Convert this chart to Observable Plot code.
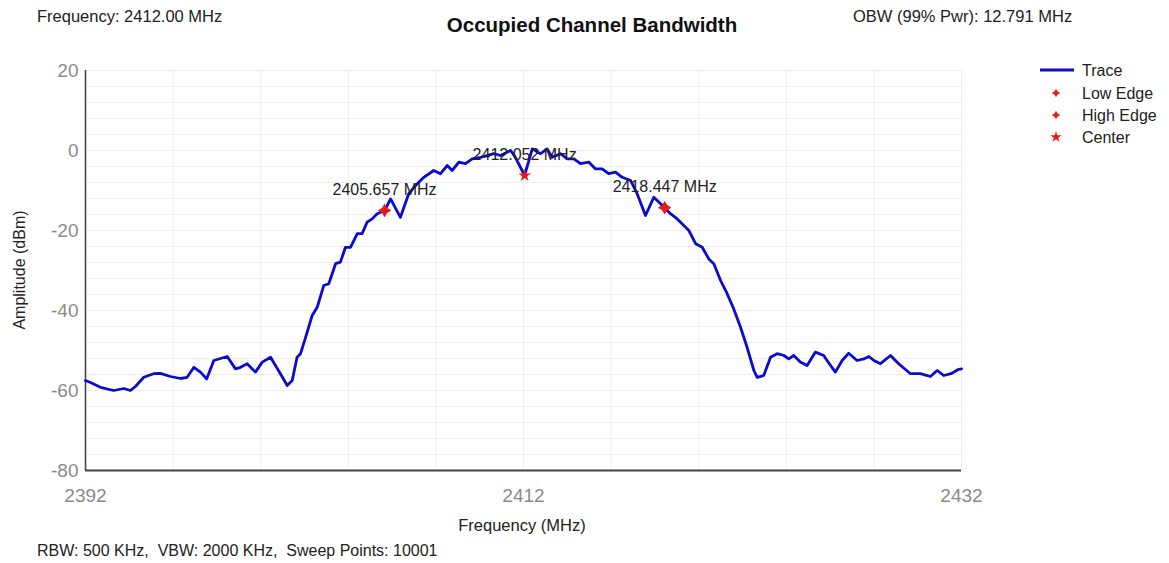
<!DOCTYPE html>
<html>
<head>
<meta charset="utf-8">
<script src="https://cdn.jsdelivr.net/npm/d3@7"></script>
<script src="https://cdn.jsdelivr.net/npm/@observablehq/plot@0.6"></script>
<style>
  html, body { margin: 0; padding: 0; background: #fff; }
  #chart { width: 1169px; height: 563px; }
  svg text { font-family: "Liberation Sans", Arial, sans-serif; }
</style>
</head>
<body>
<div id="chart"></div>
<script>
// ---- Data ----
const traceFreq = [
  2392.00, 2392.23, 2392.68, 2393.29, 2393.75, 2394.05, 2394.28, 2394.66, 2395.11, 2395.42,
  2395.88, 2396.34, 2396.64, 2396.95, 2397.25, 2397.53, 2397.86, 2398.47, 2398.85, 2399.08,
  2399.38, 2399.76, 2400.07, 2400.45, 2400.90, 2401.21, 2401.44, 2401.66, 2401.82, 2402.05,
  2402.35, 2402.58, 2402.88, 2403.11, 2403.42, 2403.64, 2403.87, 2404.10, 2404.41, 2404.63,
  2404.86, 2405.09, 2405.32, 2405.66, 2405.93, 2406.38, 2406.76, 2407.15, 2407.45, 2407.90,
  2408.21, 2408.52, 2408.74, 2409.05, 2409.35, 2409.66, 2410.04, 2410.34, 2410.64, 2410.95,
  2411.41, 2411.63, 2412.05, 2412.40, 2412.78, 2413.08, 2413.31, 2413.69, 2414.00, 2414.30,
  2414.60, 2414.98, 2415.29, 2415.59, 2415.89, 2416.20, 2416.51, 2416.89, 2417.19, 2417.57,
  2417.95, 2418.45, 2418.71, 2419.02, 2419.32, 2419.55, 2419.86, 2420.16, 2420.46, 2420.69,
  2421.00, 2421.30, 2421.60, 2421.91, 2422.21, 2422.52, 2422.67, 2422.97, 2423.28, 2423.58,
  2423.89, 2424.11, 2424.34, 2424.64, 2424.95, 2425.33, 2425.71, 2425.86, 2426.24, 2426.55,
  2426.85, 2427.23, 2427.54, 2427.77, 2428.00, 2428.30, 2428.76, 2429.13, 2429.67, 2430.12,
  2430.58, 2430.89, 2431.19, 2431.52, 2431.83, 2432.00
];
const traceAmp = [
  -57.5, -58.0, -59.2, -60.0, -59.5, -60.0, -59.0, -56.7, -55.8, -55.7,
  -56.5, -57.0, -56.7, -54.2, -55.4, -57.1, -52.5, -51.5, -54.6, -54.2,
  -53.3, -55.4, -52.9, -51.7, -55.8, -58.75, -57.5, -51.7, -50.8, -46.7,
  -41.25, -39.2, -33.75, -33.3, -28.3, -27.9, -24.2, -24.2, -20.8, -20.8,
  -17.9, -17.1, -15.8, -15.0, -12.1, -16.7, -10.8, -8.3, -6.7, -5.0,
  -5.8, -3.75, -5.0, -2.9, -3.3, -2.1, -1.7, -1.25, -0.8, -1.25,
  0.0, -1.7, -6.25, 0.4, -0.8, 0.4, -1.7, -0.8, -2.1, -2.1,
  -3.3, -2.9, -4.6, -4.6, -5.8, -5.4, -6.7, -7.5, -10.8, -16.25,
  -11.7, -14.3, -15.8, -17.1, -18.75, -20.0, -23.3, -24.2, -27.1, -28.3,
  -32.5, -35.8, -39.6, -44.2, -49.2, -55.0, -56.7, -56.25, -51.7, -50.8,
  -51.25, -52.1, -51.25, -52.9, -53.75, -50.4, -51.25, -52.5, -55.4, -52.5,
  -50.7, -52.5, -52.1, -51.5, -52.5, -53.3, -51.25, -53.3, -55.8, -55.8,
  -56.5, -55.0, -56.25, -55.8, -54.8, -54.6
];
const markerNames = ["Low Edge", "Center", "High Edge"];
const markerFreq = [2405.657, 2412.052, 2418.447];
const markerAmp = [-15.0, -6.25, -14.3];
const markerLabels = ["2405.657 MHz", "2412.052 MHz", "2418.447 MHz"];
const xTicks = [2392, 2412, 2432];
const yTicks = [-80, -60, -40, -20, 0, 20];
const legendLabels = ["Trace", "Low Edge", "High Edge", "Center"];
const headerLeft = "Frequency: 2412.00 MHz";
const titleText = "Occupied Channel Bandwidth";
const headerRight = "OBW (99% Pwr): 12.791 MHz";
const footerText = "RBW: 500 KHz,  VBW: 2000 KHz,  Sweep Points: 10001";
const xLabel = "Frequency (MHz)";
const yLabel = "Amplitude (dBm)";

// ---- Build ----
const trace = traceFreq.map((f, i) => ({f, a: traceAmp[i]}));
const markers = markerNames.map((n, i) => ({name: n, f: markerFreq[i], a: markerAmp[i], label: markerLabels[i]}));

const star4 = {
  draw(ctx, size) {
    const r = Math.sqrt(size) * 0.85, k = r * 0.38;
    ctx.moveTo(0, -r); ctx.lineTo(k, -k); ctx.lineTo(r, 0); ctx.lineTo(k, k);
    ctx.lineTo(0, r); ctx.lineTo(-k, k); ctx.lineTo(-r, 0); ctx.lineTo(-k, -k); ctx.closePath();
  }
};
const RED = "#e81818";
const BLUE = "#0a0ad0";
const fmt = d => String(d);

const svg = Plot.plot({
  width: 1169,
  height: 563,
  marginLeft: 85,
  marginRight: 208,
  marginTop: 70,
  marginBottom: 93,
  style: {fontFamily: "Liberation Sans, Arial, sans-serif", background: "#fff"},
  x: {domain: [2392, 2432]},
  y: {domain: [-80, 20]},
  marks: [
    Plot.gridX(d3.range(2392, 2433, 4), {stroke: "#eeeeee", strokeOpacity: 1}),
    Plot.gridY(d3.range(-80, 21, 4), {stroke: "#eeeeee", strokeOpacity: 1}),
    Plot.axisX(xTicks, {tickSize: 0, tickPadding: 18, fontSize: 19, fill: "#8a8a8a", label: null, tickFormat: fmt}),
    Plot.axisY(yTicks, {tickSize: 0, tickPadding: 7, fontSize: 19, fill: "#8a8a8a", label: null, tickFormat: fmt}),
    Plot.ruleX([2392], {stroke: "#444", strokeWidth: 1.6}),
    Plot.ruleY([-80], {stroke: "#444", strokeWidth: 2.2}),
    Plot.line(trace, {x: "f", y: "a", stroke: BLUE, strokeWidth: 2.8, curve: "linear"}),
    Plot.dot(markers.filter(d => d.name !== "Center"), {x: "f", y: "a", symbol: star4, r: 4.5, fill: RED, stroke: "none"}),
    Plot.dot(markers.filter(d => d.name === "Center"), {x: "f", y: "a", symbol: "star", r: 4, fill: RED, stroke: "none"}),
    Plot.text(markers, {x: "f", y: "a", text: "label", dy: -21, fontSize: 16, fill: "#222", textAnchor: "middle"})
  ]
});

const s = d3.select(svg);
function addText(x, y, txt, opts = {}) {
  const t = s.append("text").attr("x", x).attr("y", y).text(txt)
    .attr("font-size", opts.size || 16)
    .attr("fill", opts.fill || "#222")
    .attr("text-anchor", opts.anchor || "start")
    .style("white-space", "pre");
  if (opts.bold) t.attr("font-weight", "bold");
  if (opts.rotate) t.attr("transform", `rotate(${opts.rotate},${x},${y})`);
  return t;
}
addText(37, 22, headerLeft, {size: 16.5});
addText(592, 32, titleText, {size: 20.5, bold: true, anchor: "middle", fill: "#111"});
addText(853, 22, headerRight, {size: 16.5});
addText(522, 531, xLabel, {size: 16.5, anchor: "middle"});
addText(25, 270, yLabel, {size: 16, anchor: "middle", rotate: -90});
addText(37, 556, footerText, {size: 16});

// Legend
const lg = s.append("g");
lg.append("line").attr("x1", 1040).attr("x2", 1074).attr("y1", 70).attr("y2", 70)
  .attr("stroke", BLUE).attr("stroke-width", 3);
const legendY = [70, 93, 115, 137];
legendLabels.forEach((lab, i) => {
  addText(1082, legendY[i] + 6, lab, {size: 16});
});
const sym4 = d3.symbol().type(star4).size(25);
lg.append("path").attr("d", sym4()).attr("transform", "translate(1056,93)").attr("fill", RED);
lg.append("path").attr("d", sym4()).attr("transform", "translate(1056,115)").attr("fill", RED);
lg.append("path").attr("d", d3.symbol().type(d3.symbolStar).size(40)()).attr("transform", "translate(1056,137)").attr("fill", RED);

document.getElementById("chart").appendChild(svg);
</script>
</body>
</html>
